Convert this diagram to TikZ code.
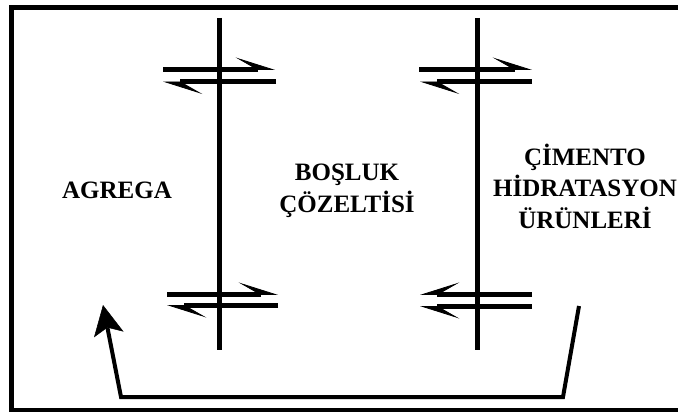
\documentclass[tikz,border=0pt]{standalone}
\usepackage{fontspec}
\setmainfont{Liberation Serif}
\usetikzlibrary{arrows.meta}
\begin{document}
\begin{tikzpicture}[x=1pt,y=-1pt,
  bar/.style={line width=5pt},
  hl/.style={line width=5pt,-{Stealth[harpoon,length=38pt,width=24pt,inset=21pt,line width=0.8pt]}},
  hr/.style={line width=5pt,-{Stealth[harpoon,swap,length=38pt,width=24pt,inset=21pt,line width=0.8pt]}},
  lbl/.style={font=\fontsize{25}{31.5}\selectfont\bfseries,align=center,inner sep=0pt}]
\useasboundingbox (0,0) rectangle (678,412);
\fill[white] (0,0) rectangle (678,412);
% frame
\draw[line width=4.5pt] (700,7.5) -- (11.5,7.5) -- (11.5,410.5) -- (700,410.5);
% membranes
\coordinate (m1t) at (219,18); \coordinate (m1b) at (219,350);
\coordinate (m2t) at (477,18); \coordinate (m2b) at (477,350);
\draw[bar] (m1t) -- (m1b);
\draw[bar] (m2t) -- (m2b);
% upper left pair
\coordinate (a1) at (163,69.5); \coordinate (a2) at (275,69.5);
\coordinate (b1) at (276,82); \coordinate (b2) at (163,82);
\draw[hl] (a1) -- (a2);
\draw[hl] (b1) -- (b2);
% upper right pair
\coordinate (c1) at (419,69.5); \coordinate (c2) at (532,69.5);
\coordinate (d1) at (532,82); \coordinate (d2) at (420,82);
\draw[hl] (c1) -- (c2);
\draw[hl] (d1) -- (d2);
% lower left pair
\coordinate (e1) at (167,294.5); \coordinate (e2) at (278,294.5);
\coordinate (f1) at (278,305.5); \coordinate (f2) at (167,305.5);
\draw[hl] (e1) -- (e2);
\draw[hl] (f1) -- (f2);
% lower right pair
\coordinate (g1) at (532,294.5); \coordinate (g2) at (420,294.5);
\coordinate (h1) at (532,306.5); \coordinate (h2) at (420,306.5);
\draw[hr] (g1) -- (g2);
\draw[hl] (h1) -- (h2);
% labels
\node[lbl,anchor=base] (agr) at (117,198) {AGREGA};
\node[lbl] (bos) at (347,191) {BOŞLUK\\ÇÖZELTİSİ};
\node[lbl] (cim) at (585,186) {ÇİMENTO\\HİDRATASYON\\ÜRÜNLERİ};
% return arrow
\coordinate (r0) at (579,306); \coordinate (r1) at (563,397);
\coordinate (r2) at (121,397); \coordinate (r3) at (103,305);
\draw[line width=4pt,line join=miter,-{Stealth[length=30pt,width=30pt,inset=7pt,line width=0.5pt]}] (r0) -- (r1) -- (r2) -- (r3);
\end{tikzpicture}
\end{document}
